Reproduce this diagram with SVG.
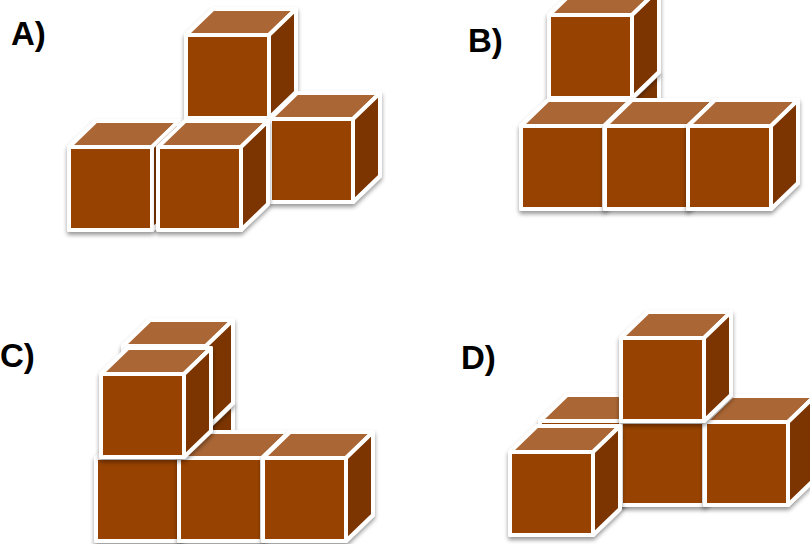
<svg xmlns="http://www.w3.org/2000/svg" xmlns:xlink="http://www.w3.org/1999/xlink" width="810" height="544" viewBox="0 0 810 544">
<style>
.label{font-family:"Liberation Sans",Arial,sans-serif;font-weight:700;font-size:33px;fill:#000}
.edge{stroke:#fff;stroke-width:4;stroke-linejoin:round}
.front{fill:#974304}
.top{fill:#AA6636}
.side{fill:#7B3503}
</style>
<defs>
<filter id="shadow" x="-20%" y="-20%" width="140%" height="140%">
<feDropShadow dx="0" dy="3" stdDeviation="2" flood-color="#000" flood-opacity="0.4"/>
</filter>
<g id="cube" filter="url(#shadow)">
<rect class="front edge" x="0" y="0" width="83" height="83"/>
<polygon class="top edge" points="0,0 27,-26 110,-26 83,0"/>
<polygon class="side edge" points="83,0 110,-26 110,57 83,83"/>
</g>
</defs>
<rect width="810" height="544" fill="#fff"/>
<g id="option-a">
<text class="label" x="11" y="45">A)</text>
<use id="a-top" href="#cube" x="186" y="35"/>
<use id="a-right" href="#cube" x="270" y="119"/>
<use id="a-left" href="#cube" x="69" y="147"/>
<use id="a-middle" href="#cube" x="158" y="147"/>
</g>
<g id="option-b">
<text class="label" x="468" y="52">B)</text>
<use id="b-hidden" href="#cube" x="549" y="99"/>
<use id="b-top" href="#cube" x="549" y="15"/>
<use id="b-left" href="#cube" x="521" y="126"/>
<use id="b-middle" href="#cube" x="605" y="126"/>
<use id="b-right" href="#cube" x="688" y="126"/>
</g>
<g id="option-c">
<text class="label" x="0" y="367">C)</text>
<use id="c-back-lower" href="#cube" x="123" y="430"/>
<use id="c-back-top" href="#cube" x="123" y="346"/>
<use id="c-left" href="#cube" x="96" y="458"/>
<use id="c-middle" href="#cube" x="179" y="458"/>
<use id="c-right" href="#cube" x="263" y="458"/>
<use id="c-front-top" href="#cube" x="101" y="374"/>
</g>
<g id="option-d">
<text class="label" x="461" y="369">D)</text>
<use id="d-back-left" href="#cube" x="540" y="421"/>
<use id="d-center" href="#cube" x="621" y="422"/>
<use id="d-right" href="#cube" x="705" y="422"/>
<use id="d-top" href="#cube" x="621" y="338"/>
<use id="d-front-left" href="#cube" x="510" y="452"/>
</g>
</svg>
